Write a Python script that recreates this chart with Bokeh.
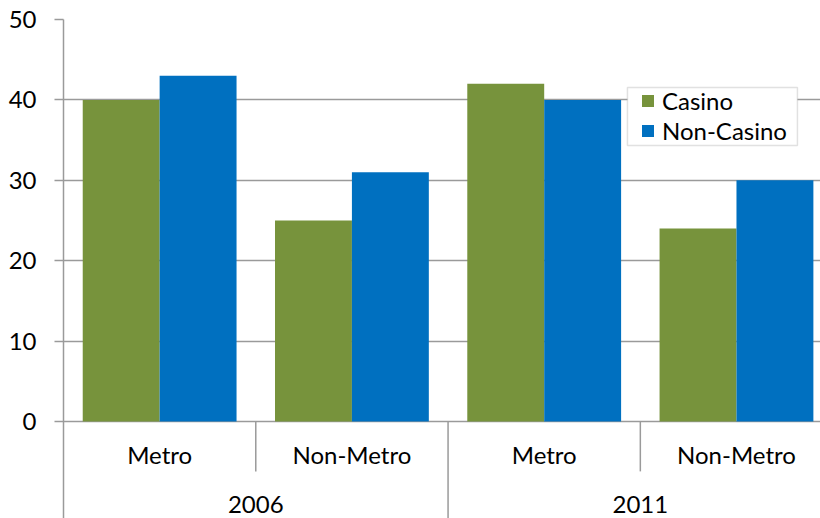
from bokeh.plotting import figure
from bokeh.models import Range1d, FixedTicker, Legend, LegendItem, ColumnDataSource, BoxAnnotation
from bokeh.core.properties import value
from bokeh.embed import file_html
from bokeh.resources import INLINE

# Survey values by year and area type
years = ["2006", "2011"]
areas = ["Metro", "Non-Metro", "Metro", "Non-Metro"]
casino = [40, 25, 42, 24]
non_casino = [43, 31, 40, 30]
y_ticks = [0, 10, 20, 30, 40, 50]

GREEN = "#77933C"
BLUE = "#0070C0"
GRAY = "#9A9A9A"
FONT = "Lato"
FSIZE = "24px"

n = len(areas)
centers = [i + 0.5 for i in range(n)]
bar_w = 0.4

src = ColumnDataSource(dict(
    xc=[c - bar_w / 2 for c in centers],
    xn=[c + bar_w / 2 for c in centers],
    casino=casino,
    non_casino=non_casino,
))

# lower part of the y range holds the two-level category labels
y_bottom = -12.06
x_end = 3.937

p = figure(width=820, height=518, output_backend="svg", toolbar_location=None,
           x_range=Range1d(0, x_end), y_range=Range1d(y_bottom, 50),
           min_border_left=63, min_border_right=0, min_border_top=19,
           min_border_bottom=0)
p.outline_line_color = None
p.background_fill_color = "white"
p.border_fill_color = "white"
p.xaxis.visible = False
p.xgrid.visible = False

ax = p.yaxis[0]
ax.ticker = FixedTicker(ticks=y_ticks)
ax.axis_line_color = GRAY
ax.axis_line_width = 1.5
ax.major_tick_line_color = GRAY
ax.major_tick_line_width = 1.5
ax.major_tick_out = 9
ax.major_tick_in = 0
ax.minor_tick_line_color = None
ax.major_label_text_font = FONT
ax.major_label_text_font_size = FSIZE
ax.major_label_text_color = "black"
ax.major_label_standoff = 18

p.ygrid.ticker = FixedTicker(ticks=y_ticks)
p.ygrid.grid_line_color = GRAY
p.ygrid.grid_line_width = 1.5

r_c = p.vbar(x="xc", top="casino", width=bar_w, bottom=0, source=src,
             fill_color=GREEN, line_color=None)
r_n = p.vbar(x="xn", top="non_casino", width=bar_w, bottom=0, source=src,
             fill_color=BLUE, line_color=None)

# category separators below the baseline
p.segment(x0=[1, 3], y0=[0, 0], x1=[1, 3], y1=[-6.2, -6.2],
          line_color=GRAY, line_width=1.5)
p.segment(x0=[2], y0=[0], x1=[2], y1=[y_bottom],
          line_color=GRAY, line_width=1.5)

p.text(x=centers, y=[-4.11] * n, text=areas, text_align="center",
       text_baseline="alphabetic", text_font=value(FONT),
       text_font_size=FSIZE, text_color="black")
p.text(x=[1, 3], y=[-10.3, -10.3], text=years, text_align="center",
       text_baseline="alphabetic", text_font=value(FONT),
       text_font_size=FSIZE, text_color="black")

# legend frame
p.add_layout(BoxAnnotation(left=2.933, right=3.817, top=41.54, bottom=34.33,
                           fill_color="white", fill_alpha=1,
                           line_color=GRAY, line_width=1.5))

legend = Legend(items=[LegendItem(label="Casino", renderers=[r_c]),
                       LegendItem(label="Non-Casino", renderers=[r_n])],
                location=(577, 373))
legend.label_text_font = FONT
legend.label_text_font_size = FSIZE
legend.label_text_color = "black"
legend.glyph_width = 15
legend.glyph_height = 15
legend.label_standoff = 7
legend.label_height = 30
legend.spacing = 0
legend.padding = 0
legend.margin = 0
legend.border_line_color = None
legend.background_fill_alpha = 0
p.add_layout(legend)

open("out.html", "w").write(file_html(p, INLINE))
